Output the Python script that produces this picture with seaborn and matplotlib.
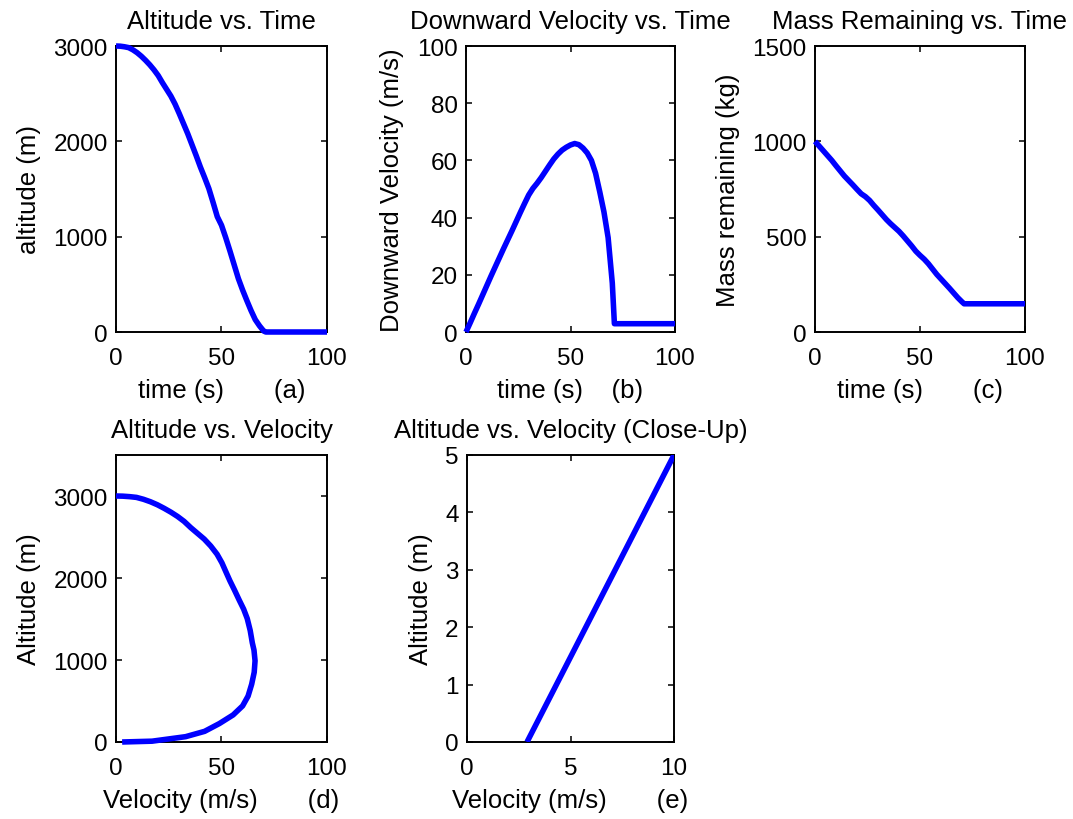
import matplotlib
matplotlib.use("Agg")
import matplotlib.pyplot as plt
import seaborn as sns
import pandas as pd

# Lander descent simulation samples
time_s = [0, 2, 4, 6, 8, 10, 12, 14, 16, 18, 20, 22, 24, 26, 28, 30, 32, 34,
          36, 38, 40, 42, 44, 46, 48, 50, 52, 54, 56, 58, 60, 62, 64, 66, 68,
          70, 71, 75, 80, 85, 90, 95, 100]
altitude_m = [3000, 2998, 2992, 2983, 2960, 2930, 2893, 2850, 2803, 2750, 2690,
              2615, 2545, 2475, 2390, 2290, 2185, 2080, 1965, 1850, 1730, 1620,
              1505, 1360, 1210, 1120, 990, 850, 705, 560, 440, 330, 225, 130,
              65, 10, 0, 0, 0, 0, 0, 0, 0]
velocity_ms = [0, 3.2, 6.5, 9.7, 13, 16.3, 19.6, 22.8, 26, 29.2, 32.3, 35.4,
               38.6, 41.8, 44.9, 47.9, 50.2, 52.0, 54.0, 56.2, 58.4, 60.5, 62.2,
               63.6, 64.6, 65.4, 65.9, 65.5, 64.3, 62.6, 60, 55.5, 49, 42, 33,
               17.1, 2.9, 2.9, 2.9, 2.9, 2.9, 2.9, 2.9]
mass_kg = [1000, 975, 950, 925, 900, 872, 845, 818, 795, 772, 748, 725, 710, 690,
           664, 640, 615, 590, 568, 548, 528, 504, 478, 452, 424, 402, 382, 358,
           330, 302, 278, 254, 230, 205, 180, 158, 148, 148, 148, 148, 148, 148,
           148]

df = pd.DataFrame({"time": time_s, "altitude": altitude_m,
                   "velocity": velocity_ms, "mass": mass_kg})

sns.set_theme(style="white")
plt.rcParams["font.family"] = ["Liberation Sans", "DejaVu Sans"]
plt.rcParams["text.color"] = "black"
plt.rcParams["axes.labelcolor"] = "black"

TICK_FS = 17.5
LABEL_FS = 18.5
LINE_KW = dict(color=(0, 0, 1), linewidth=4.0, zorder=3,
               solid_joinstyle="round", solid_capstyle="butt")

W, H = 1073, 820
fig = plt.figure(figsize=(W / 100, H / 100), dpi=100)
fig.patch.set_facecolor("white")


def make_axes(left, top, right, bottom):
    return fig.add_axes([left / W, 1 - bottom / H, (right - left) / W, (bottom - top) / H])


def style(ax, title, xlabel, ylabel, xlim, ylim, xticks, yticks):
    ax.set_xlim(*xlim)
    ax.set_ylim(*ylim)
    ax.set_xticks(xticks)
    ax.set_yticks(yticks)
    ax.set_title(title, fontsize=LABEL_FS, pad=13, color="black")
    ax.set_xlabel(xlabel, fontsize=LABEL_FS, labelpad=6, color="black")
    ax.set_ylabel(ylabel, fontsize=LABEL_FS, labelpad=9, color="black")
    ax.tick_params(axis="both", which="both", direction="in", length=4, width=1.1,
                   top=True, right=True, bottom=True, left=True,
                   labelsize=TICK_FS, colors="black")
    ax.tick_params(axis="x", pad=11)
    ax.tick_params(axis="y", pad=6)
    for sp in ax.spines.values():
        sp.set_visible(True)
        sp.set_color("black")
        sp.set_linewidth(1.4)
    ax.set_facecolor("white")
    ax.grid(False)


# (a) altitude vs time
ax_a = make_axes(116, 47, 327, 333)
sns.lineplot(data=df, x="time", y="altitude", ax=ax_a, estimator=None,
             sort=False, clip_on=False, **LINE_KW)
style(ax_a, "Altitude vs. Time", "time (s)       (a)", "altitude (m)",
      (0, 100), (0, 3000), [0, 50, 100], [0, 1000, 2000, 3000])

# (b) downward velocity vs time
ax_b = make_axes(466, 47, 675, 333)
sns.lineplot(data=df, x="time", y="velocity", ax=ax_b, estimator=None,
             sort=False, clip_on=False, **LINE_KW)
style(ax_b, "Downward Velocity vs. Time", "time (s)    (b)",
      "Downward Velocity (m/s)", (0, 100), (0, 100), [0, 50, 100],
      [0, 20, 40, 60, 80, 100])

# (c) mass remaining vs time
ax_c = make_axes(815, 47, 1025, 333)
sns.lineplot(data=df, x="time", y="mass", ax=ax_c, estimator=None,
             sort=False, clip_on=False, **LINE_KW)
style(ax_c, "Mass Remaining vs. Time", "time (s)       (c)",
      "Mass remaining (kg)", (0, 100), (0, 1500), [0, 50, 100],
      [0, 500, 1000, 1500])

# (d) altitude vs velocity
ax_d = make_axes(116, 456, 327, 743)
sns.lineplot(data=df, x="velocity", y="altitude", ax=ax_d, estimator=None,
             sort=False, clip_on=False, **LINE_KW)
style(ax_d, "Altitude vs. Velocity", "Velocity (m/s)       (d)", "Altitude (m)",
      (0, 100), (0, 3500), [0, 50, 100], [0, 1000, 2000, 3000])

# (e) close-up of the touchdown
ax_e = make_axes(467, 456, 674, 743)
sns.lineplot(data=df, x="velocity", y="altitude", ax=ax_e, estimator=None,
             sort=False, **LINE_KW)
style(ax_e, "Altitude vs. Velocity (Close-Up)", "Velocity (m/s)       (e)",
      "Altitude (m)", (0, 10), (0, 5), [0, 5, 10], [0, 1, 2, 3, 4, 5])

for ax in (ax_a, ax_b, ax_c, ax_d, ax_e):
    leg = ax.get_legend()
    if leg is not None:
        leg.remove()

fig.savefig("out.png", dpi=100, facecolor="white")
